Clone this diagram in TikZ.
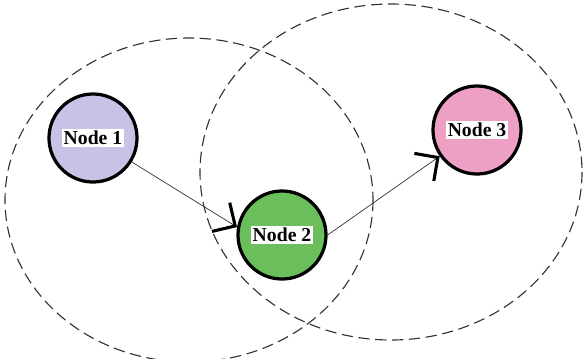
\documentclass[tikz,border=0pt]{standalone}
\usepackage{fontspec}
\setmainfont{Liberation Serif}
\usepackage{tikz}
\usetikzlibrary{arrows.meta, positioning}

\definecolor{nodeone}{RGB}{200,194,230}
\definecolor{nodetwo}{RGB}{106,190,92}
\definecolor{nodethree}{RGB}{238,160,196}

\tikzset{
  coverage/.style={draw=black!80, line width=0.8pt, dash pattern=on 8pt off 4pt},
  station/.style={circle, draw=black, line width=2.3pt, minimum size=2.2cm, inner sep=0pt},
  tag/.style={fill=white, inner sep=1.2pt, font=\fontsize{14}{16}\selectfont\bfseries},
  link/.style={draw=black!80, line width=0.5pt,
               -{Straight Barb[length=12pt, width=24pt, line width=2.2pt, color=black]}}
}

\begin{document}
\begin{tikzpicture}[x=0.025cm, y=-0.025cm]
  \useasboundingbox (0,0) rectangle (584,358);
  % transmission ranges
  \draw[coverage] (189,200) ellipse [x radius=184, y radius=162];
  \draw[coverage] (391,172) ellipse [x radius=191, y radius=168];

  % nodes
  \node[station, fill=nodeone] (n1) at (93,138) {};
  \node[station, fill=nodetwo] (n2) at (282,235) {};
  \node[station, fill=nodethree] (n3) at (477,130) {};
  \node[tag] (t1) at (n1) {Node 1};
  \node[tag] (t2) at (n2) {Node 2};
  \node[tag] (t3) at (n3) {Node 3};

  % links
  \draw[link] (n1) -- (n2.170);
  \draw[link] (n2.east) -- (n3);
\end{tikzpicture}
\end{document}
